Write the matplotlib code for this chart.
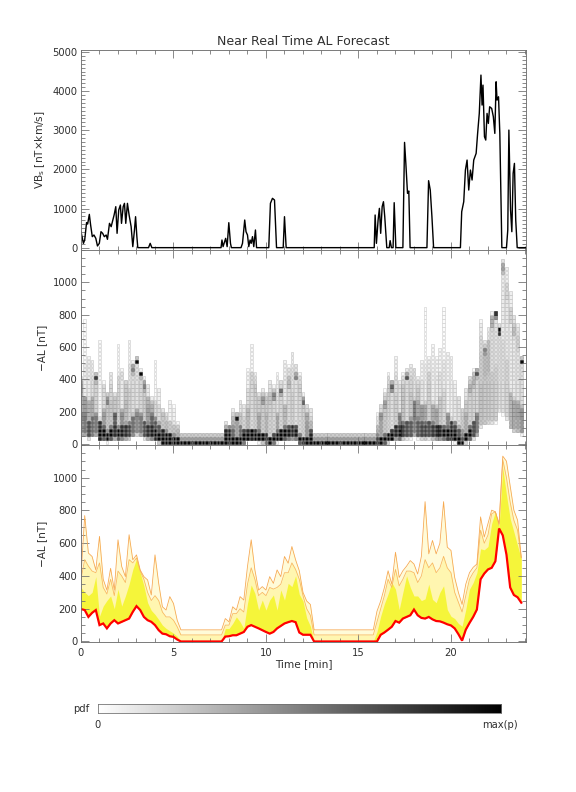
import numpy as np
import matplotlib
matplotlib.use("Agg")
import matplotlib.pyplot as plt
from matplotlib.ticker import MultipleLocator, FixedLocator

plt.rcParams['font.family'] = ['DejaVu Sans']

# ---------------- data ----------------
# VBs (top panel): time [min] and value [nT x km/s]
vbs_t = [0.0, 0.13, 0.2, 0.3, 0.36, 0.45, 0.52, 0.61, 0.7, 0.8, 0.89, 0.99, 1.08, 1.17, 1.26, 1.36, 1.43,
         1.54, 1.63, 1.72, 1.79, 1.88, 1.95, 2.04, 2.13, 2.19, 2.28, 2.35, 2.42, 2.51, 2.6, 2.71, 2.8,
         2.89, 2.95, 3.02, 3.07, 3.65, 3.74, 3.83, 7.57, 7.62, 7.68, 7.82, 7.9, 7.99, 8.08, 8.13,
         8.65, 8.73, 8.85, 8.92, 9.0, 9.07, 9.14, 9.2, 9.27, 9.34, 9.43, 9.49, 10.15, 10.24, 10.35,
         10.46, 10.57, 10.93, 11.0, 11.09, 15.85, 15.9, 15.97, 16.06, 16.13, 16.2, 16.28, 16.35, 16.42,
         16.53, 16.66, 16.71, 16.78, 16.87, 16.93, 17.02, 17.4, 17.49, 17.56, 17.65, 17.72, 17.79,
         18.7, 18.79, 18.88, 18.97, 19.06, 20.51, 20.58, 20.69, 20.78, 20.87, 20.96, 21.05, 21.14,
         21.23, 21.36, 21.44, 21.53, 21.62, 21.68, 21.73, 21.81, 21.88, 21.95, 22.02, 22.09, 22.2,
         22.29, 22.37, 22.44, 22.49, 22.57, 22.64, 22.75, 23.0, 23.07, 23.13, 23.22, 23.29, 23.36,
         23.43, 23.5, 23.58, 24.05]
vbs_v = [408, 110, 195, 638, 604, 850, 579, 281, 323, 238, 43, 110, 408, 366, 281, 323, 213,
         621, 536, 706, 834, 1047, 366, 962, 1089, 621, 1047, 1132, 621, 1132, 834, 536, 26,
         451, 791, 281, 0, 0, 110, 0, 0, 195, 26, 238, 26, 638, 110, 0,
         0, 110, 706, 408, 323, 26, 195, 110, 281, 26, 451, 0, 0, 1132, 1260,
         1217, 0, 0, 791, 0, 0, 834, 110, 706, 1004, 366, 1047, 1174, 791,
         0, 0, 179, 0, 0, 1149, 0, 0, 2689, 2153, 1387, 1447, 0,
         0, 1711, 1472, 791, 0, 0, 919, 1174, 1983, 2238, 1472, 1983, 1728,
         2238, 2409, 2919, 3430, 4409, 3643, 4153, 2834, 2749, 3430, 3174, 3600, 3557,
         3345, 2919, 4238, 3770, 3855, 2919, 0, 0, 451, 3004, 962, 408, 1898,
         2153, 706, 0, 0]

# AL forecast quantiles on a 0.2-min grid (0.0 ... 23.8)
al_low = [198, 192, 150, 175, 192, 100, 110, 80, 110, 130, 110, 120, 130, 140, 181, 216, 192, 150, 130, 120,
          100, 69, 48, 44, 32, 28, 12, 0, 0, 0, 0, 0, 0, 0, 0, 0, 0, 0, 0, 30, 32, 38, 38, 48, 58,
          90, 100, 90, 80, 69, 58, 48, 58, 80, 95, 110, 118, 125, 118, 55, 41, 41, 41,
          0, 0, 0, 0, 0, 0, 0, 0, 0, 0, 0, 0, 0, 0, 0, 0, 0, 0,
          41, 55, 72, 90, 125, 115, 140, 150, 160, 195, 160, 144, 140, 150, 135, 125, 123, 115, 105,
          98, 80, 45, 5, 72, 113, 150, 195, 380, 415, 440, 450, 490, 690, 648, 530, 330, 284, 270, 237]
al_mid = [330, 300, 280, 300, 396, 154, 216, 250, 278, 200, 319, 216, 278, 350, 440, 504, 420, 340, 237, 190,
          165, 134, 100, 80, 65, 51, 31, 0, 0, 0, 0, 0, 0, 0, 0, 0, 0, 0, 0, 79, 79, 110, 150, 120, 79,
          232, 345, 294, 192, 253, 192, 253, 284, 192, 315, 253, 355, 335, 401, 288, 247, 144, 93,
          0, 0, 0, 0, 0, 0, 0, 0, 0, 0, 0, 0, 0, 0, 0, 0, 0, 60,
          154, 230, 290, 360, 319, 195, 300, 401, 330, 278, 278, 250, 260, 350, 257, 237, 300, 340, 195,
          154, 140, 110, 93, 195, 319, 360, 420, 566, 560, 580, 720, 792, 700, 1060, 895, 750, 669, 586, 504]
al_high = [380, 500, 460, 430, 420, 480, 330, 290, 380, 280, 430, 400, 360, 500, 480, 510, 430, 380, 300, 250,
           280, 250, 180, 150, 150, 130, 90, 40, 40, 40, 40, 40, 40, 40, 40, 40, 40, 40, 40, 100, 100, 170, 170, 200, 180,
           350, 450, 380, 280, 300, 280, 330, 320, 330, 350, 420, 420, 480, 440, 380, 280, 200, 160,
           40, 40, 40, 40, 40, 40, 40, 40, 40, 40, 40, 40, 40, 40, 40, 40, 40, 120,
           200, 280, 380, 330, 440, 340, 380, 430, 430, 420, 360, 400, 500, 450, 480, 420, 450, 520, 450,
           420, 300, 240, 180, 280, 380, 420, 450, 680, 600, 650, 780, 792, 710, 1110, 1000, 850, 740, 680, 510]
al_max = [400, 769, 540, 519, 437, 642, 380, 314, 447, 314, 621, 458, 396, 652, 499, 529, 437, 396, 376, 284,
          529, 355, 212, 192, 274, 232, 130, 71, 71, 71, 71, 71, 71, 71, 71, 71, 71, 71, 71, 140, 120, 212, 192, 274, 253,
          458, 621, 437, 314, 335, 314, 396, 355, 437, 396, 519, 478, 580, 499, 432, 300, 247, 226,
          71, 71, 71, 71, 71, 71, 71, 71, 71, 71, 71, 71, 71, 71, 71, 71, 71, 185,
          247, 329, 432, 350, 545, 391, 432, 460, 494, 473, 412, 520, 854, 535, 617, 535, 600, 854, 576,
          556, 391, 300, 226, 350, 420, 453, 473, 761, 638, 720, 802, 792, 720, 1132, 1101, 950, 802, 741, 514]
al_dt = 0.2
pdf_fracs = [0.50, 0.30, 0.14, 0.06]   # probability mass between successive quantile curves
pdf_floor = 0.3                        # lower edge of the pdf support, as a fraction of the low curve
al_bin = 25

# ---------------- figure ----------------
fig = plt.figure(figsize=(8, 11), dpi=72)
txtc = '#303030'
spc = '#707070'
L, W = 81 / 576, 444.9 / 576
ax1 = fig.add_axes([L, 1 - 250 / 792, W, 200 / 792])
ax2 = fig.add_axes([L, 1 - 445 / 792, W, 195 / 792])
ax3 = fig.add_axes([L, 1 - 642.3 / 792, W, 197.3 / 792])

tg = np.arange(len(al_low)) * al_dt
low = np.array(al_low, float)
mid = np.array(al_mid, float)
high = np.array(al_high, float)
mx = np.array(al_max, float)


def style(ax, ymajors, ymin, xlabels):
    ax.set_xlim(0, 24.05)
    ax.xaxis.set_major_locator(MultipleLocator(5))
    ax.xaxis.set_minor_locator(MultipleLocator(1))
    ax.yaxis.set_major_locator(FixedLocator(ymajors))
    ax.yaxis.set_minor_locator(MultipleLocator(ymin))
    ax.tick_params(which='both', direction='in', top=True, right=True, colors=spc,
                   labelcolor=txtc, labelsize=10, width=0.8)
    ax.tick_params(which='major', length=8)
    ax.tick_params(which='minor', length=4)
    ax.tick_params(axis='x', pad=6)
    if not xlabels:
        ax.tick_params(labelbottom=False)
    for s in ax.spines.values():
        s.set_color(spc)
        s.set_linewidth(0.9)


# top panel
ax1.plot(vbs_t, vbs_v, color='black', lw=1.4)
ax1.set_ylim(-60, 5050)
style(ax1, [0, 1000, 2000, 3000, 4000, 5000], 100, False)
ax1.set_ylabel('VB$_\\mathregular{s}$ [nT×km/s]', color=txtc, fontsize=10.5, labelpad=5)
ax1.set_title('Near Real Time AL Forecast', color=txtc, fontsize=12.5, pad=5)

# middle panel: pdf built from the quantile curves
edges = np.arange(0, 1200 + al_bin, al_bin)
cmap = plt.cm.gray_r
xs, ys, fcs, ecs = [], [], [], []
for i in range(len(tg)):
    bnds = [pdf_floor * low[i], low[i], mid[i], high[i], mx[i]]
    mass = np.zeros(len(edges) - 1)
    for k in range(4):
        lo = bnds[k]
        w = max(bnds[k + 1] - lo, al_bin)
        ov = np.clip(np.minimum(edges[1:], lo + w) - np.maximum(edges[:-1], lo), 0, None)
        mass += pdf_fracs[k] * ov / w
    lev = np.clip(mass / 0.16, 0, 1) ** 1.15
    for j in np.nonzero(mass > 0.003)[0]:
        xs.append(tg[i])
        ys.append(edges[j])
        fcs.append(cmap(lev[j] * 0.97))
        ecs.append(cmap(min(1.0, lev[j] + 0.2)))
ax2.bar(xs, al_bin * 0.85, bottom=ys, width=al_dt * 0.75, color=fcs, edgecolor=ecs, linewidth=0.5,
        align='center')
ax2.set_ylim(-5, 1200)
style(ax2, [0, 200, 400, 600, 800, 1000], 50, False)
ax2.set_ylabel('−AL [nT]', color=txtc, fontsize=10.5, labelpad=5)

# bottom panel: quantile bands
ax3.fill_between(tg, low, mx, color='#fffbd8', lw=0)
ax3.fill_between(tg, low, high, color='#fff6b0', lw=0)
ax3.fill_between(tg, low, mid, color='#f5f53a', lw=0)
ax3.plot(tg, high, color='#f8b860', lw=0.8)
ax3.plot(tg, mx, color='#f6a850', lw=0.8)
ax3.plot(tg, low, color='#ff0000', lw=2.2, solid_joinstyle='miter')
ax3.set_ylim(-5, 1200)
style(ax3, [0, 200, 400, 600, 800, 1000], 50, True)
ax3.set_ylabel('−AL [nT]', color=txtc, fontsize=10.5, labelpad=5)
ax3.set_xlabel('Time [min]', color=txtc, fontsize=10.5, labelpad=1)

# colour bar
cax = fig.add_axes([97.7 / 576, 1 - 712.7 / 792, 403.3 / 576, 8.4 / 792])
cax.imshow(np.linspace(0, 1, 256)[None, :], cmap='gray_r', aspect='auto', extent=[0, 1, 0, 1])
cax.set_xticks([])
cax.set_yticks([])
for s in cax.spines.values():
    s.set_color(spc)
    s.set_linewidth(0.8)
fig.text(89 / 576, 1 - 709 / 792, 'pdf', ha='right', va='center', color=txtc, fontsize=10)
fig.text(97.7 / 576, 1 - 725 / 792, '0', ha='center', va='center', color=txtc, fontsize=10)
fig.text(500 / 576, 1 - 725 / 792, 'max(p)', ha='center', va='center', color=txtc, fontsize=10)

fig.savefig('out.png', dpi=72)
